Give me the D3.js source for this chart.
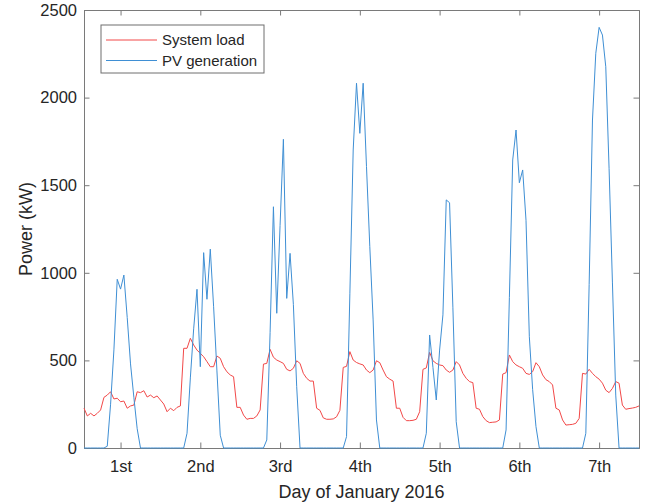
<!DOCTYPE html>
<html>
<head>
<meta charset="utf-8">
<script src="https://cdn.jsdelivr.net/npm/d3@7"></script>
<style>
  body { margin: 0; background: #fff; }
  svg { display: block; font-family: "Liberation Sans", Arial, sans-serif; }
  .tick-label { fill: #262626; font-size: 16.5px; }
  .axis-label { fill: #262626; font-size: 18px; }
  .legend-text { fill: #262626; font-size: 15px; }
</style>
</head>
<body>
<div id="chart"></div>
<script>
// hourly samples, hour 1 .. 168 (1-7 Jan 2016)
const loadKW = [
  227,183,198,183,198,217,289,302,321,280,284,264,268,227,240,245,321,316,327,291,302,287,297,274,
  251,207,227,213,232,240,569,569,626,588,559,540,521,493,464,464,525,512,464,435,417,407,232,232,
  188,164,169,169,183,217,479,483,563,518,502,493,483,449,440,455,498,483,426,398,382,382,227,215,
  172,164,164,166,178,215,460,466,550,502,488,480,474,445,430,445,498,487,445,407,393,382,227,227,
  175,156,156,158,164,207,449,457,546,498,483,474,470,445,432,445,493,474,426,398,379,373,227,221,
  179,156,145,147,149,160,422,430,531,493,474,464,455,426,420,436,487,464,417,390,379,360,227,217,
  160,131,133,135,141,169,426,422,449,426,407,393,370,330,316,340,379,370,245,221,225,228,232,240
];

const pvKW = [
  0,0,0,0,0,0,0,10,250,560,963,907,987,745,480,290,110,0,0,0,0,0,0,0,
  0,0,0,0,0,0,0,84,400,680,906,464,1115,849,1135,806,440,73,0,0,0,0,0,0,
  0,0,0,0,0,0,0,46,660,1377,769,1270,1762,854,1111,820,350,0,0,0,0,0,0,0,
  0,0,0,0,0,0,0,65,880,1701,2082,1796,2082,1606,1149,731,160,0,0,0,0,0,0,0,
  0,0,0,0,0,0,0,84,645,460,274,559,760,1416,1400,800,150,0,0,0,0,0,0,0,
  0,0,0,0,0,0,0,103,860,1644,1815,1514,1587,1300,635,333,122,0,0,0,0,0,0,0,
  0,0,0,0,0,0,0,84,933,1872,2253,2401,2357,2176,1594,947,302,0,0,0,0,0,0,0
];

const dayTicks = [12, 36, 60, 84, 108, 132, 156];
const dayLabels = ["1st", "2nd", "3rd", "4th", "5th", "6th", "7th"];
const powerTicks = [0, 500, 1000, 1500, 2000, 2500];

const seriesNames = ["System load", "PV generation"];
const seriesColors = ["#f24848", "#3f8fd4"];

class PowerChart {
  constructor(_config) {
    this.config = {
      parentElement: _config.parentElement,
      containerWidth: 645,
      containerHeight: 504,
      margin: {top: 10, right: 6, bottom: 56, left: 84},
      tickSize: 5.5
    };
    this.initVis();
  }

  initVis() {
    let vis = this;
    vis.width = vis.config.containerWidth - vis.config.margin.left - vis.config.margin.right;
    vis.height = vis.config.containerHeight - vis.config.margin.top - vis.config.margin.bottom;

    vis.svg = d3.select(vis.config.parentElement).append("svg")
        .attr("width", vis.config.containerWidth)
        .attr("height", vis.config.containerHeight);

    vis.chart = vis.svg.append("g")
        .attr("transform", `translate(${vis.config.margin.left},${vis.config.margin.top})`);

    vis.xScale = d3.scaleLinear().domain([1, 168]).range([0, vis.width]);
    vis.yScale = d3.scaleLinear().domain([0, 2500]).range([vis.height, 0]);

    vis.renderAxes();
    vis.renderLines();
    vis.renderLegend();
  }

  renderAxes() {
    let vis = this;
    const t = vis.config.tickSize;
    const fmt = i => dayLabels[dayTicks.indexOf(i)];

    // inward ticks on all four sides, matlab style box
    const axes = [
      {axis: d3.axisBottom(vis.xScale).tickValues(dayTicks).tickSize(-t).tickPadding(12).tickFormat(fmt), y: vis.height, x: 0},
      {axis: d3.axisTop(vis.xScale).tickValues(dayTicks).tickSize(-t).tickFormat(""), y: 0, x: 0},
      {axis: d3.axisLeft(vis.yScale).tickValues(powerTicks).tickSize(-t).tickPadding(7).tickFormat(d3.format("d")), y: 0, x: 0},
      {axis: d3.axisRight(vis.yScale).tickValues(powerTicks).tickSize(-t).tickFormat(""), y: 0, x: vis.width}
    ];

    axes.forEach(a => {
      const g = vis.chart.append("g")
          .attr("transform", `translate(${a.x},${a.y})`)
          .call(a.axis);
      g.select(".domain").attr("stroke", "#7a7a7a").attr("stroke-width", 1);
      g.selectAll(".tick line").attr("stroke", "#7a7a7a").attr("stroke-width", 1);
      g.selectAll(".tick text")
          .attr("class", "tick-label")
          .attr("font-family", null)
          .attr("font-size", null);
    });

    vis.chart.append("text")
        .attr("class", "axis-label")
        .attr("x", vis.width / 2)
        .attr("y", vis.height + 50)
        .attr("text-anchor", "middle")
        .text("Day of January 2016");

    vis.svg.append("text")
        .attr("class", "axis-label")
        .attr("transform", `translate(31.5,${vis.config.margin.top + vis.height / 2}) rotate(-90)`)
        .attr("text-anchor", "middle")
        .text("Power (kW)");
  }

  renderLines() {
    let vis = this;
    const line = d3.line()
        .x((d, i) => vis.xScale(i + 1))
        .y(d => vis.yScale(d));

    [loadKW, pvKW].forEach((data, k) => {
      vis.chart.append("path")
          .datum(data)
          .attr("fill", "none")
          .attr("stroke", seriesColors[k])
          .attr("stroke-width", 1)
          .attr("stroke-linejoin", "round")
          .attr("d", line);
    });
  }

  renderLegend() {
    let vis = this;
    const legend = vis.svg.append("g").attr("transform", "translate(101,25)");

    legend.append("rect")
        .attr("width", 163)
        .attr("height", 48)
        .attr("fill", "#fff")
        .attr("stroke", "#6e6e6e")
        .attr("stroke-width", 1);

    const rows = legend.selectAll(".legend-row")
        .data(seriesNames)
      .join("g")
        .attr("class", "legend-row")
        .attr("transform", (d, i) => `translate(0,${15 + i * 20.5})`);

    rows.append("line")
        .attr("x1", 5)
        .attr("x2", 56)
        .attr("stroke", (d, i) => seriesColors[i])
        .attr("stroke-width", 1);

    rows.append("text")
        .attr("class", "legend-text")
        .attr("x", 61)
        .attr("dy", "0.35em")
        .text(d => d);
  }
}

new PowerChart({parentElement: "#chart"});
</script>
</body>
</html>
